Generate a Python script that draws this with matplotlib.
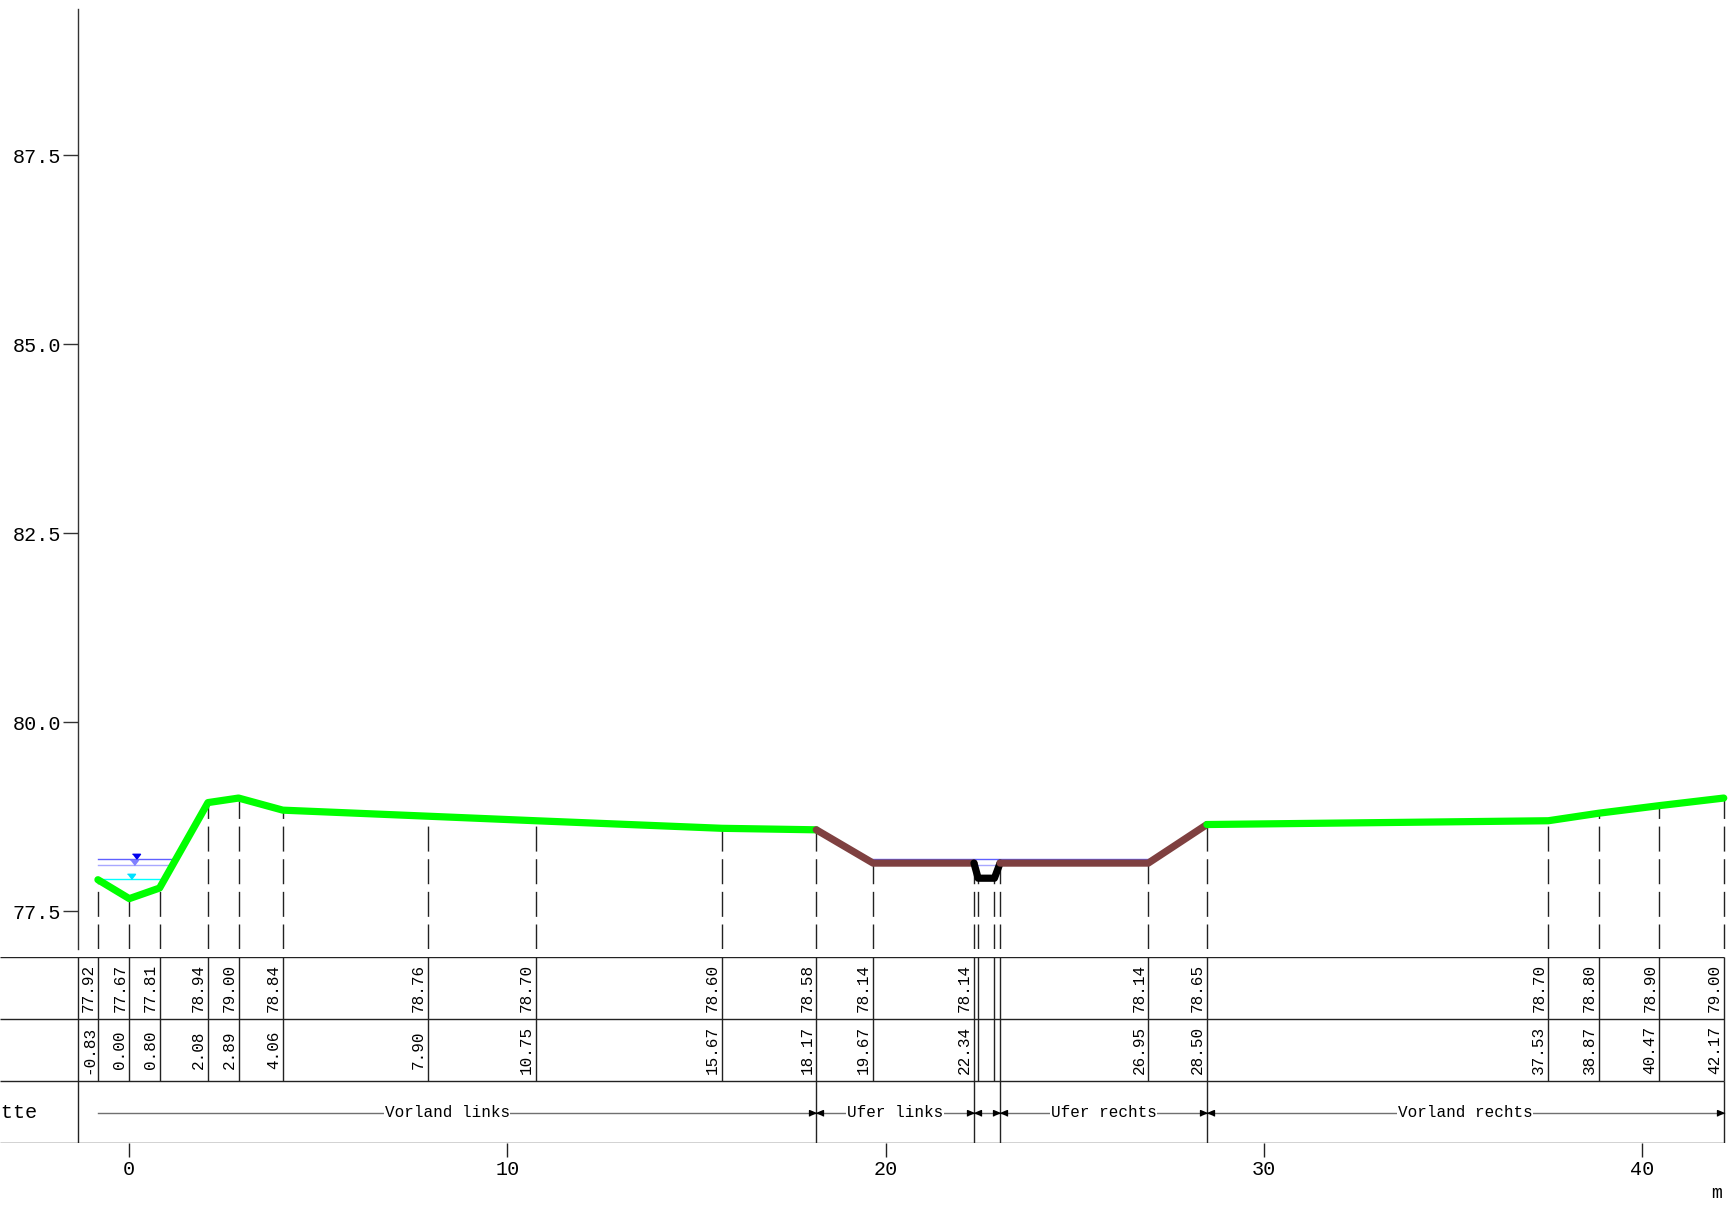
import numpy as np
import matplotlib
matplotlib.use("Agg")
import matplotlib.pyplot as plt
from matplotlib.markers import MarkerStyle

plt.rcParams['font.family'] = ['Liberation Mono', 'DejaVu Sans Mono']

# profile points (station [m], elevation [m])
stations = [-0.83, 0.00, 0.80, 2.08, 2.89, 4.06, 7.90, 10.75, 15.67, 18.17,
            19.67, 22.34, 22.45, 22.88, 23.03, 26.95, 28.50, 37.53, 38.87,
            40.47, 42.17]
elevations = [77.92, 77.67, 77.81, 78.94, 79.00, 78.84, 78.76, 78.70, 78.60,
              78.58, 78.14, 78.14, 77.94, 77.94, 78.14, 78.14, 78.65, 78.70,
              78.80, 78.90, 79.00]
# channel points without value labels in the table
unlabelled = [22.45, 22.88, 23.03]

# sections
section_bounds = [-0.83, 18.17, 22.34, 23.03, 28.50, 42.17]
section_names = ["Vorland links", "Ufer links", "", "Ufer rechts", "Vorland rechts"]
section_colors = ['#00ff00', '#7f4040', '#000000', '#7f4040', '#00ff00']

# water levels
wl_levels = [78.19, 78.12, 77.93]
wl_line_colors = ['#6060ff', '#a8a8ff', '#00ffff']
wl_marker_colors = ['#0000ee', '#8080ff', '#00e0ff']
wl_marker_x = [0.18, 0.13, 0.04]

row_name = "Abschnitte"
x_ticks = [0, 10, 20, 30, 40]

W, H = 1730, 1208
px_per_m = 37.81
x_axis = -1.357
x_right = x_axis + (W - 78) / px_per_m
x_left_tab = x_right - W / px_per_m

fig = plt.figure(figsize=(W / 100, H / 100), dpi=100)
ax = fig.add_axes([78 / W, 1 - 949.3 / H, 1 - 78 / W, (949.3 - 9.3) / H])
tab = fig.add_axes([0, 1 - 1143.3 / H, 1, (1143.3 - 957) / H])

st = np.array(stations)
el = np.array(elevations)


def wet_segments(level, x, z):
    segs = []
    start = x[0] if z[0] < level else None
    for i in range(len(x) - 1):
        z0, z1 = z[i], z[i + 1]
        if (z0 < level) != (z1 < level):
            xc = x[i] + (level - z0) / (z1 - z0) * (x[i + 1] - x[i])
            if start is None:
                start = xc
            else:
                segs.append((start, xc))
                start = None
    if start is not None:
        segs.append((start, x[-1]))
    return segs


# profile axes
ax.set_xlim(x_axis, x_right)
ax.set_ylim(77.0, 89.43)
for s in ['top', 'right', 'bottom']:
    ax.spines[s].set_visible(False)
ax.spines['left'].set_color('#333333')
ax.spines['left'].set_linewidth(1)
ax.set_yticks([77.5, 80.0, 82.5, 85.0, 87.5])
ax.set_yticklabels([f"{v:.1f}" for v in [77.5, 80.0, 82.5, 85.0, 87.5]])
ax.tick_params(axis='y', direction='out', length=11, width=1, color='#333333',
               pad=1, labelsize=14.5)
ax.set_xticks([])

ax.vlines(st, 77.0, el, colors='#222222', linewidth=1,
          linestyles=(0, (18, 5.5)), zorder=1)

for lvl, lc in zip(wl_levels, wl_line_colors):
    for a, b in wet_segments(lvl, st, el):
        ax.plot([a, b], [lvl, lvl], color=lc, lw=1.0, zorder=2)

tri_down = MarkerStyle([(-1, 1.3), (1, 1.3), (0, 0)])
for lvl, mc, mx in zip(wl_levels, wl_marker_colors, wl_marker_x):
    ax.plot(mx, lvl, marker=tri_down, ms=7.5, color=mc, mec=mc, zorder=4)

for i, c in enumerate(section_colors):
    m = (st >= section_bounds[i] - 1e-9) & (st <= section_bounds[i + 1] + 1e-9)
    ax.plot(st[m], el[m], color=c, lw=5.2, solid_capstyle='round',
            solid_joinstyle='round', zorder=3)

# table axes
tab.set_xlim(x_left_tab, x_right)
tab.set_ylim(0, 3)
for s in tab.spines.values():
    s.set_visible(False)
tab.set_yticks([])
tab.set_xticks(x_ticks)
tab.tick_params(axis='x', direction='out', length=10, width=1, color='#222222',
                pad=2, labelsize=14.5)

lc_tab = '#222222'
tab.hlines([0, 1, 2, 3], x_left_tab, section_bounds[-1], colors=lc_tab, lw=1)
tab.vlines(x_axis, 0, 3, colors=lc_tab, lw=1)
tab.vlines(st, 1, 3, colors=lc_tab, lw=1)
tab.vlines(section_bounds[1:], 0, 1, colors=lc_tab, lw=1)

for x, z in zip(stations, elevations):
    if x in unlabelled:
        continue
    tab.text(x - 0.05, 2.5, f"{z:.2f}", rotation=90, ha='right', va='center',
             fontsize=11.5)
    tab.text(x - 0.05, 1.5, f"{x:.2f}", rotation=90, ha='right', va='center',
             fontsize=11.5)

tri_r = MarkerStyle([(0, 0), (-1.2, 0.5), (-1.2, -0.5)])
tri_l = MarkerStyle([(0, 0), (1.2, 0.5), (1.2, -0.5)])
ya = 0.49
for i, name in enumerate(section_names):
    a, b = section_bounds[i], section_bounds[i + 1]
    tab.plot([a, b], [ya, ya], color='#707070', lw=1, zorder=1)
    tab.plot(b, ya, marker=tri_r, ms=10, color='black', zorder=3)
    if i > 0:
        tab.plot(a, ya, marker=tri_l, ms=10, color='black', zorder=3)
    if name:
        xc = (max(a, x_axis) + b) / 2 if i > 0 else (x_axis + b) / 2
        tab.text(xc, ya, name, ha='center', va='center', fontsize=11.5,
                 zorder=2, bbox=dict(facecolor='white', edgecolor='none', pad=0.5))

tab.text(x_left_tab + 37 / px_per_m, 0.5, row_name, ha='right', va='center',
         fontsize=14.5)

fig.text(1717 / W, 1 - 1193 / H, "m", ha='center', va='center', fontsize=13)

fig.savefig("out.png", dpi=100)
